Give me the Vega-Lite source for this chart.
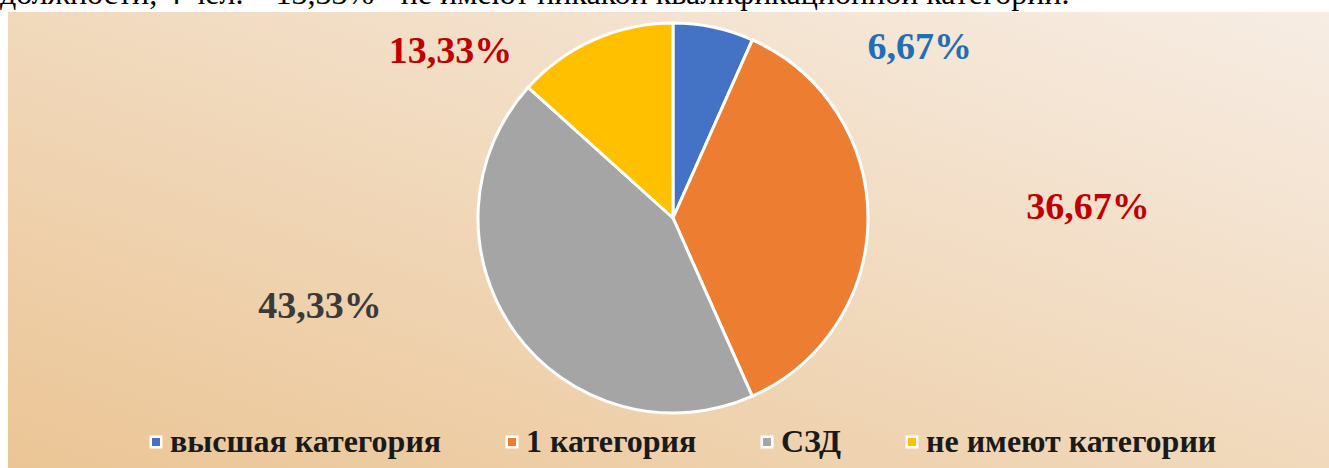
{
  "$schema": "https://vega.github.io/schema/vega-lite/v6.json",
  "width": 1321,
  "height": 456,
  "autosize": {"type": "none"},
  "padding": {"left": 8, "top": 12, "right": 0, "bottom": 0},
  "background": "white",
  "title": {
    "text": "должности, 4 чел. – 13,33% - не имеют никакой квалификационной категории.",
    "anchor": "start",
    "frame": "group",
    "orient": "top",
    "dx": -8,
    "dy": 24,
    "offset": 0,
    "baseline": "alphabetic",
    "font": "Liberation Serif",
    "fontSize": 32,
    "fontWeight": "normal",
    "color": "black"
  },
  "config": {
    "view": {"stroke": "#c9d1da", "strokeWidth": 1},
    "legend": {"labelFont": "Liberation Serif", "labelFontWeight": "bold"}
  },
  "layer": [
    {
      "data": {"values": [{"bg": 1}]},
      "mark": {
        "type": "rect",
        "color": {
          "gradient": "linear",
          "x1": 0, "y1": 1, "x2": 1, "y2": 0,
          "stops": [
            {"offset": 0, "color": "#ebc595"},
            {"offset": 1, "color": "#f7ede4"}
          ]
        }
      },
      "encoding": {}
    },
    {
      "data": {
        "values": [
          {"category": "высшая категория", "value": 6.67, "label": "6,67%"},
          {"category": "1 категория", "value": 36.67, "label": "36,67%"},
          {"category": "СЗД", "value": 43.33, "label": "43,33%"},
          {"category": "не имеют категории", "value": 13.33, "label": "13,33%"}
        ]
      },
      "transform": [{"window": [{"op": "row_number", "as": "idx"}]}],
      "layer": [
        {
          "mark": {"type": "arc", "outerRadius": 195, "stroke": "white", "strokeWidth": 3, "xOffset": 4.5, "yOffset": -22},
          "encoding": {
            "theta": {"field": "value", "type": "quantitative", "stack": true},
            "order": {"field": "idx", "type": "quantitative"},
            "color": {
              "field": "category",
              "type": "nominal",
              "sort": ["высшая категория", "1 категория", "СЗД", "не имеют категории"],
              "scale": {
                "domain": ["высшая категория", "1 категория", "СЗД", "не имеют категории"],
                "range": ["#4472c4", "#ed7d31", "#a5a5a5", "#ffc000"]
              },
              "legend": {
                "orient": "none",
                "legendX": 132,
                "legendY": 414,
                "direction": "horizontal",
                "title": null,
                "padding": 0,
                "labelFont": "Liberation Serif",
                "labelFontWeight": "bold",
                "labelFontSize": 32,
                "labelColor": "#1a1a1a",
                "labelOffset": -2,
                "symbolType": "square",
                "symbolSize": 110,
                "symbolStrokeColor": "white",
                "symbolStrokeWidth": 2.5,
                "symbolOpacity": 1,
                "columnPadding": 54,
                "labelLimit": 500
              }
            }
          }
        },
        {
          "mark": {
            "type": "text",
            "radius": 215,
            "font": "Liberation Serif",
            "fontWeight": "bold",
            "fontSize": 38,
            "xOffset": 4.5,
            "yOffset": -22,
            "dx": {"expr": "datum.category === 'высшая категория' ? 202 : datum.category === '1 категория' ? 200 : datum.category === 'СЗД' ? -179 : -135"},
            "dy": {"expr": "datum.category === 'высшая категория' ? 40 : datum.category === '1 категория' ? -10 : datum.category === 'СЗД' ? -37 : 30"}
          },
          "encoding": {
            "theta": {"field": "value", "type": "quantitative", "stack": true},
            "order": {"field": "idx", "type": "quantitative"},
            "text": {"field": "label", "type": "nominal"},
            "fill": {
              "field": "category",
              "type": "nominal",
              "scale": {
                "domain": ["высшая категория", "1 категория", "СЗД", "не имеют категории"],
                "range": ["#1f6fb4", "#c00000", "#3a3a3a", "#c00000"]
              },
              "legend": null
            }
          }
        }
      ]
    }
  ]
}
